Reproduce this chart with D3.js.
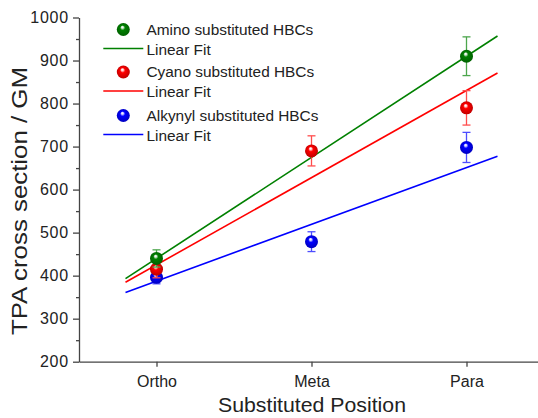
<!DOCTYPE html>
<html>
<head>
<meta charset="utf-8">
<script src="https://cdn.jsdelivr.net/npm/d3@7"></script>
<style>
  html, body { margin: 0; padding: 0; background: #fff; }
  svg { display: block; font-family: "Liberation Sans", Arial, sans-serif; }
</style>
</head>
<body>
<svg id="chart" width="538" height="418"></svg>
<script>
// ---- data ----
const categories = ["Ortho", "Meta", "Para"];
const categoryX = [1, 2, 3];
const seriesNames = ["Amino substituted HBCs", "Cyano substituted HBCs", "Alkynyl substituted HBCs"];
const seriesColors = ["#008000", "#ff0000", "#0000ff"];
const aminoValues = [440, null, 910];
const aminoErrors = [20, null, 45];
const cyanoValues = [415, 690, 790];
const cyanoErrors = [20, 35, 40];
const alkynylValues = [396, 479, 698];
const alkynylErrors = [15, 23, 35];
const yTicks = [200, 300, 400, 500, 600, 700, 800, 900, 1000];
const yMinorTicks = [250, 350, 450, 550, 650, 750, 850, 950];
const fitLabel = "Linear Fit";
const xTitle = "Substituted Position";
const yTitle = "TPA cross section / GM";

const seriesValues = [aminoValues, cyanoValues, alkynylValues];
const seriesErrors = [aminoErrors, cyanoErrors, alkynylErrors];

// ---- layout ----
const svg = d3.select("#chart");
const x = d3.scaleLinear().domain([0.5, 3.5]).range([79, 544]);
const y = d3.scaleLinear().domain([200, 1000]).range([361.7, 17.5]);
const axisColor = "#444";
const textColor = "#222";

// gradients for spheres
const defs = svg.append("defs");
seriesColors.forEach((c, i) => {
  const g = defs.append("radialGradient").attr("id", "ball" + i)
    .attr("cx", "0.5").attr("cy", "0.5").attr("r", "0.55")
    .attr("fx", "0.42").attr("fy", "0.3");
  const dark = d3.color(c).darker(0.9);
  const light = d3.interpolateRgb(c, "#fff")(0.85);
  g.append("stop").attr("offset", "0%").attr("stop-color", "#fff");
  g.append("stop").attr("offset", "14%").attr("stop-color", light);
  g.append("stop").attr("offset", "35%").attr("stop-color", c);
  g.append("stop").attr("offset", "100%").attr("stop-color", dark);
});

// weighted linear fit (weights 1/sigma^2)
function weightedFit(xs, ys, es) {
  let sw = 0, swx = 0, swy = 0;
  const pts = [];
  xs.forEach((xv, i) => { if (ys[i] != null) pts.push([xv, ys[i], 1 / (es[i] * es[i])]); });
  pts.forEach(([a, b, w]) => { sw += w; swx += w * a; swy += w * b; });
  const xb = swx / sw, yb = swy / sw;
  let sxx = 0, sxy = 0;
  pts.forEach(([a, b, w]) => { sxx += w * (a - xb) * (a - xb); sxy += w * (a - xb) * (b - yb); });
  const slope = sxy / sxx;
  return { slope, intercept: yb - slope * xb };
}

// ---- axes ----
const yAxis = d3.axisLeft(y).tickValues(yTicks).tickSize(6).tickSizeOuter(0).tickPadding(4)
  .tickFormat(d3.format("d"));
const yG = svg.append("g").attr("transform", "translate(79,0)").call(yAxis);
const yMinor = d3.axisLeft(y).tickValues(yMinorTicks).tickSize(3).tickSizeOuter(0).tickFormat("");
const yMG = svg.append("g").attr("transform", "translate(79,0)").call(yMinor);
yMG.select(".domain").remove();

const xAxis = d3.axisBottom(x).tickValues(categoryX).tickSize(5).tickSizeOuter(0).tickPadding(9)
  .tickFormat((d, i) => categories[i]);
const xG = svg.append("g").attr("transform", "translate(0,361.7)").call(xAxis);

[yG, yMG, xG].forEach(g => {
  g.selectAll("path, line").attr("stroke", axisColor).attr("stroke-width", 1.3);
  g.selectAll("text").attr("fill", textColor).style("font-size", "16px")
    .style("font-family", "'Liberation Sans', Arial, sans-serif");
});
yG.selectAll("text").attr("letter-spacing", "0.8px");

svg.append("text").attr("x", 312).attr("y", 412).attr("text-anchor", "middle")
  .attr("fill", textColor).style("font-size", "21px")
  .attr("textLength", 188).attr("lengthAdjust", "spacingAndGlyphs").text(xTitle);
svg.append("text").attr("transform", "translate(27,201) rotate(-90)").attr("text-anchor", "middle")
  .attr("fill", textColor).style("font-size", "22px")
  .attr("textLength", 268).attr("lengthAdjust", "spacingAndGlyphs").text(yTitle);

// ---- fit lines ----
const fitRange = [0.8, 3.2];
seriesValues.forEach((vals, i) => {
  const f = weightedFit(categoryX, vals, seriesErrors[i]);
  svg.append("line")
    .attr("x1", x(fitRange[0])).attr("y1", y(f.intercept + f.slope * fitRange[0]))
    .attr("x2", x(fitRange[1])).attr("y2", y(f.intercept + f.slope * fitRange[1]))
    .attr("stroke", seriesColors[i]).attr("stroke-width", 1.6);
});

// ---- error bars and points (alkynyl first, amino on top) ----
const order = [2, 1, 0];
order.forEach(i => {
  const vals = seriesValues[i], errs = seriesErrors[i];
  const col = d3.interpolateRgb(seriesColors[i], "#fff")(0.3);
  const g = svg.append("g");
  categoryX.forEach((xv, k) => {
    if (vals[k] == null) return;
    const cx = x(xv), lo = y(vals[k] - errs[k]), hi = y(vals[k] + errs[k]);
    g.append("line").attr("x1", cx).attr("x2", cx).attr("y1", lo).attr("y2", hi)
      .attr("stroke", col).attr("stroke-width", 1.3);
    [lo, hi].forEach(yy => g.append("line").attr("x1", cx - 4).attr("x2", cx + 4)
      .attr("y1", yy).attr("y2", yy).attr("stroke", col).attr("stroke-width", 1.3));
  });
  categoryX.forEach((xv, k) => {
    if (vals[k] == null) return;
    g.append("circle").attr("cx", x(xv)).attr("cy", y(vals[k])).attr("r", 6.5)
      .attr("fill", "url(#ball" + i + ")");
  });
});

// ---- legend ----
const legend = svg.append("g");
const legendRows = [34.5, 77, 120.5];
seriesNames.forEach((name, i) => {
  const b = legendRows[i];
  legend.append("circle").attr("cx", 123.3).attr("cy", b - 5).attr("r", 6.5)
    .attr("fill", "url(#ball" + i + ")");
  legend.append("text").attr("x", 146.5).attr("y", b).attr("fill", textColor)
    .style("font-size", "15.4px").text(name);
  legend.append("line").attr("x1", 103.3).attr("x2", 143.3)
    .attr("y1", b + 20 - 6).attr("y2", b + 20 - 6)
    .attr("stroke", seriesColors[i]).attr("stroke-width", 1.6);
  legend.append("text").attr("x", 146.5).attr("y", b + 20).attr("fill", textColor)
    .style("font-size", "15.4px").text(fitLabel);
});
</script>
</body>
</html>
